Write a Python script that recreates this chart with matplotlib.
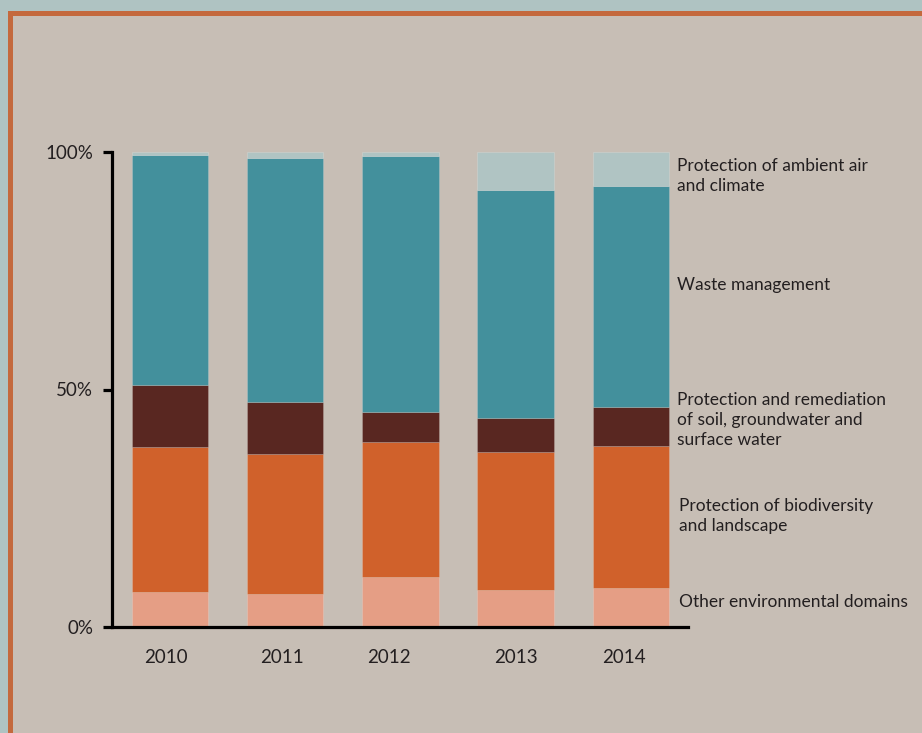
import matplotlib
matplotlib.use("Agg")
import matplotlib.pyplot as plt
from matplotlib.patches import Rectangle
import numpy as np

plt.rcParams["font.family"] = ["Lato", "DejaVu Sans"]

# Data (share of expenditure, %)
years = ["2010", "2011", "2012", "2013", "2014"]
other = [7.4, 6.9, 10.5, 7.7, 8.3]
biodiversity = [30.5, 29.5, 28.4, 29.1, 29.8]
soil_water = [13.1, 11.0, 6.4, 7.1, 8.3]
waste = [48.4, 51.4, 53.9, 48.2, 46.5]
air_climate = [0.6, 1.2, 0.8, 7.9, 7.1]

series_labels = [
    "Other environmental domains",
    "Protection of biodiversity\nand landscape",
    "Protection and remediation\nof soil, groundwater and\nsurface water",
    "Waste management",
    "Protection of ambient air\nand climate",
]
colors = ["#e59e85", "#d0612b", "#592721", "#43909c", "#b0c4c3"]

# label placement
label_y = [5.2, 23.4, 43.6, 72.0, 95.0]
label_x = [4.42, 4.42, 4.40, 4.40, 4.40]
year_label_x = [-0.035, 0.972, 1.90, 3.002, 3.939]

W, H = 922, 733
fig = plt.figure(figsize=(W / 100, H / 100), dpi=100)
fig.patch.set_facecolor("#afc3c2")

# frame: orange border on top / left, beige panel
fig.add_artist(Rectangle((8 / W, 0), 1, (H - 11) / H, transform=fig.transFigure,
                         facecolor="#c4693d", edgecolor="none", zorder=-10))
fig.add_artist(Rectangle((13 / W, 0), 1, (H - 16) / H, transform=fig.transFigure,
                         facecolor="#c7beb5", edgecolor="none", zorder=-9))

ax = fig.add_axes([112 / W, (H - 627) / H, (688 - 112) / W, (627 - 152) / H])
ax.set_facecolor("none")

x = np.arange(len(years))
stack = [other, biodiversity, soil_water, waste, air_climate]
bottom = np.zeros(len(years))
for vals, c in zip(stack, colors):
    ax.bar(x, vals, width=0.664, bottom=bottom, color=c,
           edgecolor="#ffffff30", linewidth=0.6, zorder=2)
    bottom += np.array(vals)

for txt, yy, xx in zip(series_labels, label_y, label_x):
    ax.text(xx, yy, txt, ha="left", va="center", fontsize=12.5,
            color="#231f20", linespacing=1.3, clip_on=False)

ax.set_xlim(-0.503, 4.495)
ax.set_ylim(0, 100)

for s in ["top", "right"]:
    ax.spines[s].set_visible(False)
for s in ["left", "bottom"]:
    ax.spines[s].set_linewidth(2.3)
    ax.spines[s].set_color("black")

ax.set_yticks([0, 50, 100])
ax.set_yticklabels(["0%", "50%", "100%"])
ax.tick_params(axis="y", direction="out", length=6.5, width=2.3, pad=7,
               labelsize=13.5, labelcolor="#231f20")
ax.set_xticks(year_label_x)
ax.set_xticklabels(years)
ax.tick_params(axis="x", length=0, pad=16, labelsize=13.5, labelcolor="#231f20")

fig.savefig("out.png", dpi=100, facecolor=fig.get_facecolor())
